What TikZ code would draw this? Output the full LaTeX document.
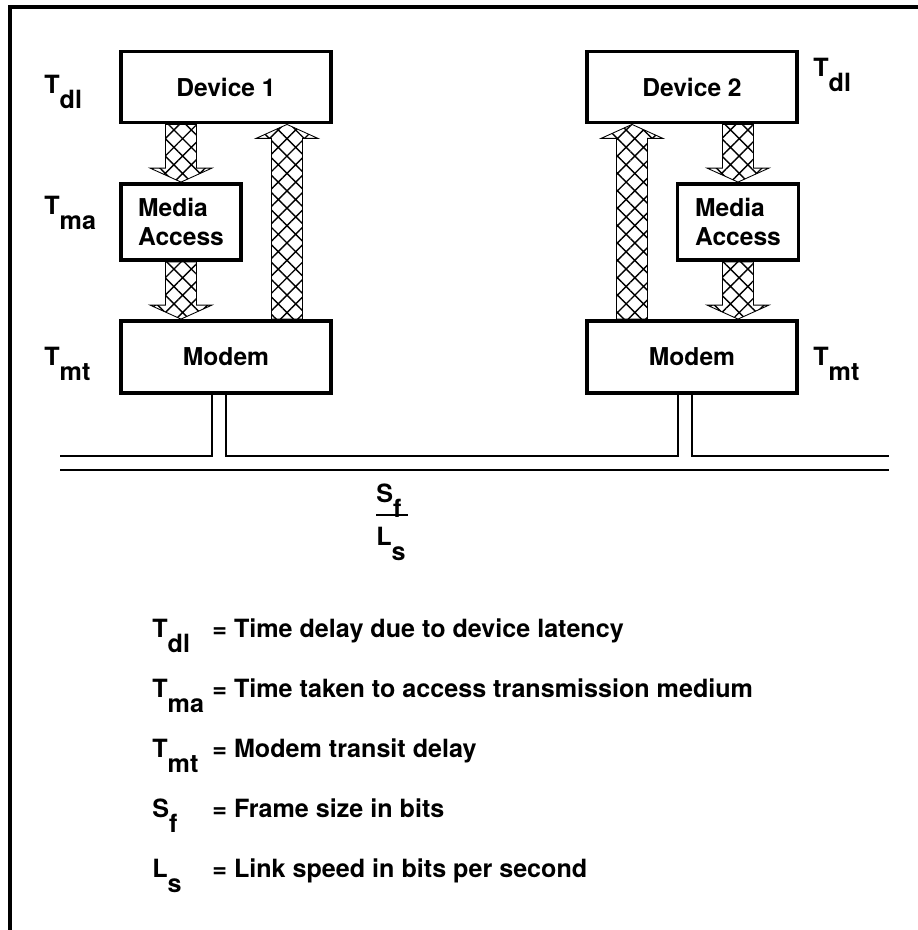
\documentclass[tikz,border=0pt]{standalone}
\usepackage{fontspec}
\setmainfont{TeX Gyre Heros}
\usepackage{tikz}
\usetikzlibrary{
  calc,
  patterns.meta
}
\newcommand{\lowsub}[1]{\raisebox{-0.6em}{#1}}
% hatched block arrows, vertical only
\newcommand{\hatchdown}[2]{%
  \path[hatcharrow] let \p1=(#1), \p2=(#2) in
    (\x1-0.31cm,\y1) -- (\x1-0.31cm,\y2+0.28cm) -- (\x1-0.62cm,\y2+0.28cm)
    -- (\x1,\y2) -- (\x1+0.62cm,\y2+0.28cm) -- (\x1+0.31cm,\y2+0.28cm)
    -- (\x1+0.31cm,\y1) -- cycle;}
\newcommand{\hatchup}[2]{%
  \path[hatcharrow] let \p1=(#1), \p2=(#2) in
    (\x1-0.31cm,\y1) -- (\x1-0.31cm,\y2-0.28cm) -- (\x1-0.62cm,\y2-0.28cm)
    -- (\x1,\y2) -- (\x1+0.62cm,\y2-0.28cm) -- (\x1+0.31cm,\y2-0.28cm)
    -- (\x1+0.31cm,\y1) -- cycle;}
\tikzset{
  unitbox/.style = {
    rectangle, draw=black, line width=2.2pt,
    fill=white, minimum width=#1, minimum height=1.42cm,
    align=left, inner sep=0pt,
    font=\fontsize{14}{17}\selectfont\bfseries
  },
  unitbox/.default = 4.2cm,
  hatcharrow/.style = {
    draw=black, line width=0.5pt,
    pattern={Hatch[angle=45, distance=7pt, line width=0.8pt]}
  },
  lbl/.style  = {font=\fontsize{14.3}{16}\selectfont\bfseries,
    inner sep=0pt, anchor=base west},
  bus/.style  = {draw=black, line width=1.2pt},
  frame/.style = {draw=black, line width=2pt},
}
\begin{document}
\begin{tikzpicture}[x=0.02cm, y=-0.02cm]
  \useasboundingbox (0,0) rectangle (918,930);
  \draw[frame] (10,930) -- (10,7) -- (918,7);

  % station 1
  \node[unitbox] (dev1) at (226,87) {Device 1};
  \node[unitbox=2.4cm, minimum height=1.52cm] (ma1) at (181,222)
    {Media\\Access};
  \node[unitbox, minimum height=1.44cm] (mod1) at (226,357) {Modem};

  % station 2
  \node[unitbox] (dev2) at (692,87) {Device 2};
  \node[unitbox=2.42cm, minimum height=1.52cm] (ma2) at (738,222)
    {Media\\Access};
  \node[unitbox, minimum height=1.44cm] (mod2) at (692,357) {Modem};

  %% Hatched arrows
  \hatchdown{dev1.south -| ma1.north}{ma1.north}
  \hatchdown{ma1.south}{mod1.north -| ma1.south}
  \coordinate (up1) at ($(mod1.north)+(61,0)$);
  \hatchup{up1}{up1 |- dev1.south}
  \hatchdown{dev2.south -| ma2.north}{ma2.north}
  \hatchdown{ma2.south}{mod2.north -| ma2.south}
  \coordinate (up2) at ($(mod2.north)+(-60,0)$);
  \hatchup{up2}{up2 |- dev2.south}

  % delay labels
  \node[lbl] (tdl1) at (44,93)  {T\lowsub{dl}};
  \node[lbl] (tma1) at (44,214) {T\lowsub{ma}};
  \node[lbl] (tmt1) at (44,365) {T\lowsub{mt}};
  \node[lbl] (tdl2) at (813,76) {T\lowsub{dl}};
  \node[lbl] (tmt2) at (813,365) {T\lowsub{mt}};

  %% Bus
  \coordinate (busw) at (60,456);
  \coordinate (buse) at (889,456);
  \coordinate (tap1) at ($(mod1.south)+(-14,0)$);
  \coordinate (tap2) at ($(mod2.south)+(-14,0)$);
  \draw[bus] (busw) -- (tap1 |- busw) -- (tap1);
  \draw[bus] (mod1.south) -- (mod1.south |- busw) -- (tap2 |- busw) -- (tap2);
  \draw[bus] (mod2.south) -- (mod2.south |- busw) -- (buse);
  \draw[bus] ($(busw)+(0,14)$) -- ($(buse)+(0,14)$);

  % frame rate
  \node[lbl] (sf) at (376,502) {S\lowsub{f}};
  \node[lbl] (ls) at (376,545) {L\lowsub{s}};
  \draw[line width=1.3pt] ($(sf.base west)+(0,13)$) -- ++(32,0);

  %% Key
  \node[lbl] (kdl) at (152,637) {T\lowsub{dl}};
  \node[lbl] (edl) at (212,637) {= Time delay due to device latency};
  \node[lbl] (kma) at (152,697) {T\lowsub{ma}};
  \node[lbl] (ema) at (212,697) {= Time taken to access transmission medium};
  \node[lbl] (kmt) at (152,757) {T\lowsub{mt}};
  \node[lbl] (emt) at (212,757) {= Modem transit delay};
  \node[lbl] (ksf) at (152,817) {S\lowsub{f}};
  \node[lbl] (esf) at (212,817) {= Frame size in bits};
  \node[lbl] (kls) at (152,877) {L\lowsub{s}};
  \node[lbl] (els) at (212,877) {= Link speed in bits per second};

\end{tikzpicture}
\end{document}
